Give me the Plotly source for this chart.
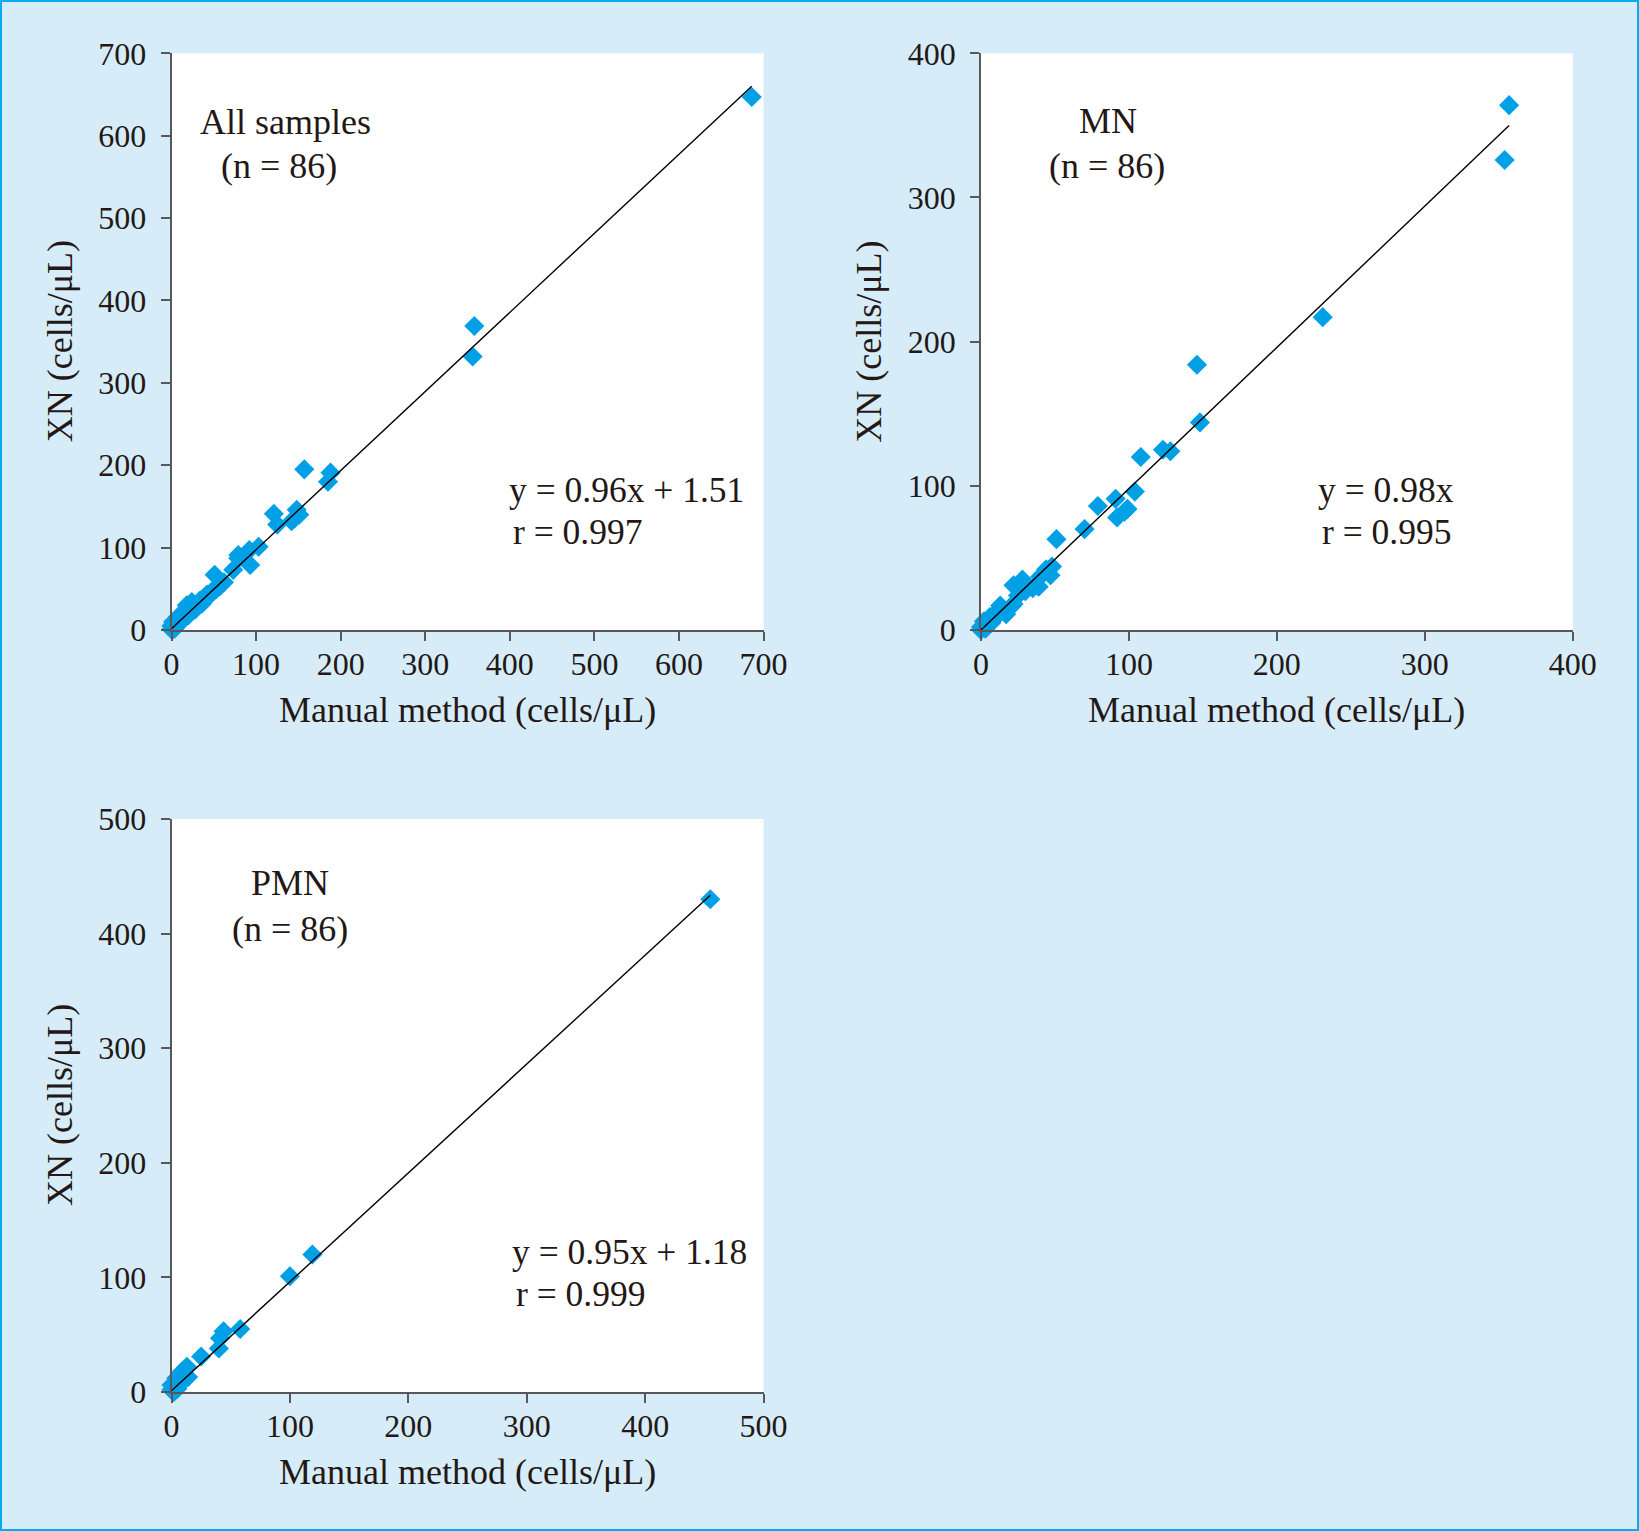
import plotly.graph_objects as go

W, H = 1639, 1531

# ---------------- data ----------------
all_x = [686, 358, 356, 157, 188, 185, 121, 125, 148, 146, 151, 142, 103, 92, 79, 79, 93, 73,
         51, 57, 49, 53, 42, 38, 34, 24, 18, 26, 30, 14, 20, 16, 8, 10, 6, 2, 3, 0, 0, 1, 4,
         12, 22, 28, 44, 36, 62, 5]
all_y = [647, 369, 332, 195, 191, 180, 141, 128, 146, 136, 140, 132, 101, 97, 91, 87, 79, 73,
         67, 53, 48, 50, 43, 38, 36, 34, 30, 28, 30, 22, 18, 15, 16, 9, 7, 10, 3, 5, 1, 0, 2,
         12, 21, 25, 41, 32, 58, 5]

mn_x = [357, 354, 231, 146, 148, 108, 123, 128, 104, 91, 99, 92, 97, 79, 70, 51, 48, 47, 40,
        39, 35, 28, 22, 22, 20, 13, 11, 6, 7, 2, 0, 0, 3, 15, 25, 30, 44, 9, 4, 17]
mn_y = [364, 326, 217, 184, 144, 120, 125, 124, 96, 91, 84, 78, 82, 86, 70, 63, 44, 38, 37,
        30, 29, 35, 31, 18, 16, 17, 13, 9, 5, 6, 2, 0, 1, 14, 24, 27, 42, 8, 3, 11]

pmn_x = [455, 119, 100, 58, 44, 41, 40, 25, 13, 9, 14, 4, 0, 0, 3, 2, 6, 10, 1, 5]
pmn_y = [430, 120, 101, 55, 53, 47, 38, 31, 22, 18, 13, 12, 6, 2, 4, 0, 8, 10, 1, 3]

panel_names = ["All samples", "MN", "PMN"]
n_label = "(n = 86)"
fit_slope = [0.96, 0.98, 0.95]
fit_intercept = [1.51, 0.0, 1.18]
eq_text = ["y = 0.96x + 1.51", "y = 0.98x", "y = 0.95x + 1.18"]
r_text = ["r = 0.997", "r = 0.995", "r = 0.999"]
axis_max = [700, 400, 500]
tick_step = 100
x_title = "Manual method (cells/μL)"
y_title = "XN (cells/μL)"

# ---------------- styling ----------------
FONT = "Liberation Serif"
TXT = "#231815"
AX = "#595757"
MK = "#00A0E6"
BG = "#D6ECF9"
BORDER = "#00AEEF"


def px(x):
    return x / W


def py(y):
    return 1 - y / H


# plot areas in pixel coordinates (left, right, top, bottom)
areas = [(171.5, 763.6, 53.3, 630.0),
         (981.0, 1572.7, 53.3, 630.0),
         (171.5, 763.6, 819.0, 1392.0)]

datasets = [(all_x, all_y), (mn_x, mn_y), (pmn_x, pmn_y)]

fig = go.Figure()
annotations = []

for i, ((xs, ys), (l, r, t, b)) in enumerate(zip(datasets, areas)):
    sfx = "" if i == 0 else str(i + 1)
    xa, ya = "x" + sfx, "y" + sfx
    fig.add_trace(go.Scatter(x=xs, y=ys, mode="markers", xaxis=xa, yaxis=ya,
                             marker=dict(symbol="diamond", size=15.5, color=MK, line=dict(width=0)),
                             cliponaxis=False, showlegend=False, hoverinfo="skip"))
    xmax = max(xs)
    lx = [0, xmax]
    ly = [fit_slope[i] * v + fit_intercept[i] for v in lx]
    fig.add_trace(go.Scatter(x=lx, y=ly, mode="lines", xaxis=xa, yaxis=ya,
                             line=dict(color="#000000", width=1.4),
                             cliponaxis=False, showlegend=False, hoverinfo="skip"))
    axcommon = dict(range=[0, axis_max[i]], dtick=tick_step, tick0=0, showline=True,
                    linecolor=AX, linewidth=1.5, ticks="outside", ticklen=9,
                    tickcolor=AX, tickwidth=1.5, showgrid=False, zeroline=False,
                    automargin=False,
                    tickfont=dict(family=FONT, size=32, color=TXT), fixedrange=True)
    fig.update_layout(**{
        "xaxis" + sfx: dict(domain=[px(l), px(r)], anchor=ya, ticklabelstandoff=-4, **axcommon),
        "yaxis" + sfx: dict(domain=[py(b), py(t)], anchor=xa, ticklabelstandoff=8, **axcommon),
    })
    cx = (l + r) / 2
    cy = (t + b) / 2
    # axis titles
    annotations.append(dict(x=px(cx), y=py(b + 80), xref="paper", yref="paper",
                            text=x_title, showarrow=False, xanchor="center", yanchor="middle",
                            font=dict(family=FONT, size=36, color=TXT)))
    annotations.append(dict(x=px(l - 112), y=py(cy), xref="paper", yref="paper",
                            text=y_title, showarrow=False, xanchor="center", yanchor="middle",
                            textangle=-90, font=dict(family=FONT, size=36, color=TXT)))

# panel labels and equations (pixel positions)
label_pos = [(285.8, 122, 278.5, 166), (1108.3, 121, 1107.3, 166), (290.3, 883, 290.3, 929)]
eq_pos = [(507, 490, 511, 532), (1316, 490, 1320, 532), (510, 1252, 514, 1294)]
for i in range(3):
    x1, y1, x2, y2 = label_pos[i]
    annotations.append(dict(x=px(x1), y=py(y1), xref="paper", yref="paper", text=panel_names[i],
                            showarrow=False, xanchor="center", yanchor="middle",
                            font=dict(family=FONT, size=36, color=TXT)))
    annotations.append(dict(x=px(x2), y=py(y2), xref="paper", yref="paper", text=n_label,
                            showarrow=False, xanchor="center", yanchor="middle",
                            font=dict(family=FONT, size=36, color=TXT)))
    ex1, ey1, ex2, ey2 = eq_pos[i]
    annotations.append(dict(x=px(ex1), y=py(ey1), xref="paper", yref="paper", text=eq_text[i],
                            showarrow=False, xanchor="left", yanchor="middle",
                            font=dict(family=FONT, size=35.5, color=TXT)))
    annotations.append(dict(x=px(ex2), y=py(ey2), xref="paper", yref="paper", text=r_text[i],
                            showarrow=False, xanchor="left", yanchor="middle",
                            font=dict(family=FONT, size=35.5, color=TXT)))

fig.update_layout(
    template="none",
    width=W, height=H, autosize=False,
    margin=dict(l=0, r=0, t=0, b=0, pad=0, autoexpand=False),
    paper_bgcolor=BG, plot_bgcolor="#FFFFFF",
    annotations=annotations,
    shapes=[dict(type="rect", xref="paper", yref="paper", x0=0, y0=0, x1=1, y1=1,
                 line=dict(color=BORDER, width=4), fillcolor="rgba(0,0,0,0)", layer="above")],
)

fig.write_html("out.html", config={"displayModeBar": False},
               post_script="document.body.style.margin='0px';document.body.style.overflow='hidden';")
